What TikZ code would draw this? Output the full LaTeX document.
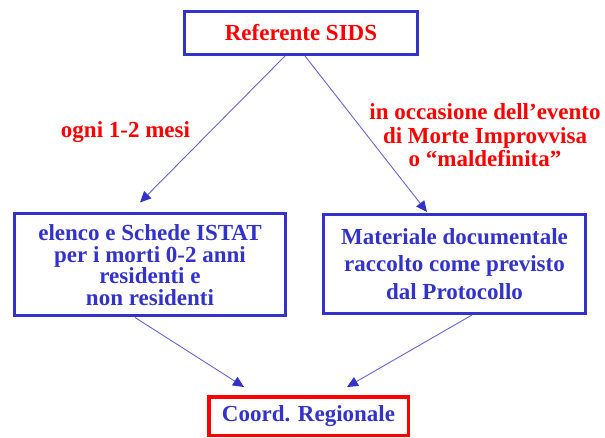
\documentclass[tikz,border=0pt]{standalone}
\usepackage{fontspec}
\setmainfont{Liberation Serif}
\usetikzlibrary{arrows.meta}
\definecolor{bl}{RGB}{51,51,204}
\definecolor{ln}{RGB}{100,100,225}
\begin{document}
\begin{tikzpicture}[x=1pt,y=-1pt,
  font=\bfseries\fontsize{23}{21.7}\selectfont,
  box/.style={draw=bl, line width=3pt, inner sep=0pt, align=center, text=bl},
  lbl/.style={text=red, align=center, inner sep=0pt},
  conn/.style={draw=ln, line width=0.9pt, -{Triangle[length=11pt,width=10pt,color=bl]}}]
\fill[white] (0,0) rectangle (605,438);
\useasboundingbox (0,0) rectangle (605,438);
\node[box, text=red, minimum width=233pt, minimum height=43pt] (top) at (301,33) {Referente SIDS};
\node[box, minimum width=271pt, minimum height=102pt] (left) at (150,265)
  {elenco e Schede ISTAT\\per i morti 0-2 anni\\residenti e\\non residenti};
\node[box, minimum width=262pt, minimum height=99pt, font=\bfseries\fontsize{23}{27.5}\selectfont] (right) at (454.5,264)
  {Materiale documentale\\raccolto come previsto\\dal Protocollo};
\node[box, draw=red, line width=3.5pt, minimum width=199.5pt, minimum height=38.5pt] (bot) at (308.5,416) {Coord. Regionale};
\node[lbl] (l1) at (125.5,132) {ogni 1-2 mesi};
\node[lbl] (l2) at (485,135) {in occasione dell’evento\\[3pt]di Morte Improvvisa\\[1pt]o “maldefinita”};
\draw[conn] ([xshift=-16pt]top.south) -- ([xshift=-10pt,yshift=10pt]left.north);
\draw[conn] ([xshift=4pt]top.south) -- ([xshift=-27.5pt,yshift=1pt]right.north);
\draw[conn] ([xshift=-15pt]left.south) -- ([xshift=-64.5pt,yshift=8pt]bot.north);
\draw[conn] ([xshift=17.5pt]right.south) -- ([xshift=38.5pt,yshift=8pt]bot.north);
\end{tikzpicture}
\end{document}
